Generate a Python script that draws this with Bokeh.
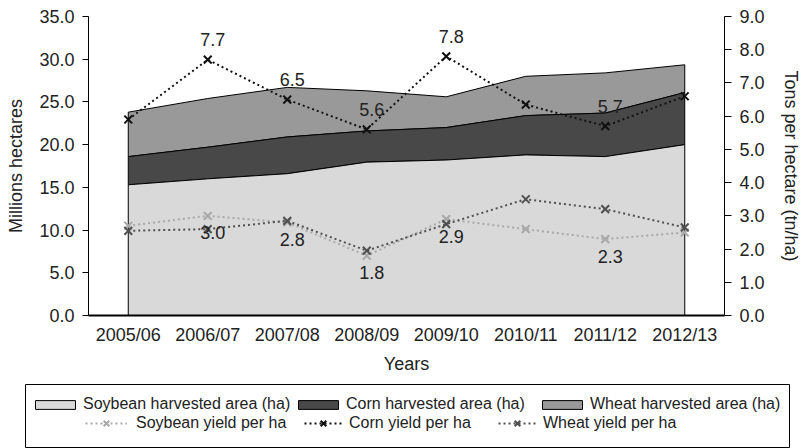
from bokeh.plotting import figure
from bokeh.models import (Range1d, LinearAxis, FixedTicker, NumeralTickFormatter,
                          Legend, LegendItem)
from bokeh.embed import file_html
from bokeh.resources import INLINE
from bokeh.core.properties import value

# ---------------- data ----------------
years = ["2005/06", "2006/07", "2007/08", "2008/09", "2009/10", "2010/11", "2011/12", "2012/13"]
soy_area = [15.3, 16.0, 16.6, 17.95, 18.2, 18.8, 18.6, 20.0]      # Mha
corn_area = [3.3, 3.7, 4.3, 3.65, 3.8, 4.6, 5.1, 6.1]             # Mha
wheat_area = [5.2, 5.7, 5.8, 4.7, 3.6, 4.6, 4.7, 3.25]            # Mha
soy_yield = [2.7, 3.0, 2.8, 1.8, 2.9, 2.6, 2.3, 2.5]              # t/ha
corn_yield = [5.9, 7.7, 6.5, 5.6, 7.8, 6.35, 5.7, 6.6]            # t/ha
wheat_yield = [2.55, 2.6, 2.85, 1.95, 2.75, 3.5, 3.2, 2.65]       # t/ha
corn_labels = ["", "7.7", "6.5", "5.6", "7.8", "", "5.7", ""]
soy_labels = ["", "3.0", "2.8", "1.8", "2.9", "", "2.3", ""]
left_ticks = [0, 5, 10, 15, 20, 25, 30, 35]
right_ticks = [0, 1, 2, 3, 4, 5, 6, 7, 8, 9]

FONT = "Liberation Sans"
SOY_FILL, CORN_FILL, WHEAT_FILL = "#d9d9d9", "#484848", "#999999"
SOY_LINE, CORN_LINE, WHEAT_LINE = "#a8a8a8", "#111111", "#505050"

xs = list(range(len(years)))
soy_top = soy_area
corn_top = [a + b for a, b in zip(soy_top, corn_area)]
wheat_top = [a + b for a, b in zip(corn_top, wheat_area)]
zero = [0.0] * len(xs)


def build(fig, yname):
    """Draw areas and yield lines on fig; return renderers for legends."""
    def layer(top, bottom, fill):
        px = xs + xs[::-1]
        py = list(top) + list(bottom)[::-1]
        return fig.patch(px, py, fill_color=fill, line_color="black", line_width=1)

    rw = layer(wheat_top, corn_top, WHEAT_FILL)
    rc = layer(corn_top, soy_top, CORN_FILL)
    rs = layer(soy_top, zero, SOY_FILL)

    def yline(vals, color, size):
        kw = {"y_range_name": yname} if yname else {}
        l = fig.line(xs, vals, line_color=color, line_width=2, line_dash="2 3", **kw)
        s = fig.scatter(xs, vals, marker="x", size=size, line_color=color, line_width=2, **kw)
        return [l, s]

    ys = yline(soy_yield, SOY_LINE, 11)
    yw = yline(wheat_yield, WHEAT_LINE, 11)
    yc = yline(corn_yield, CORN_LINE, 11)
    return rs, rc, rw, ys, yc, yw


p = figure(width=803, height=376, x_range=Range1d(-0.5, 7.5), y_range=Range1d(0, 35),
           output_backend="svg", toolbar_location=None,
           min_border_left=88, min_border_right=78, min_border_top=16, min_border_bottom=61)
p.extra_y_ranges = {"yield": Range1d(0, 9)}
p.outline_line_color = None
p.grid.visible = False

build(p, "yield")

p.text(xs, corn_yield, text=corn_labels, y_range_name="yield", x_offset=5, y_offset=-20,
       text_align="center", text_baseline="middle", text_font=value(FONT),
       text_font_size="18px", text_color="#222222")
p.text(xs, soy_yield, text=soy_labels, y_range_name="yield", x_offset=5, y_offset=17,
       text_align="center", text_baseline="middle", text_font=value(FONT),
       text_font_size="18px", text_color="#222222")

# axes
xa = p.xaxis[0]
xa.ticker = FixedTicker(ticks=xs)
xa.major_label_overrides = {i: y for i, y in enumerate(years)}
xa.minor_tick_line_color = None
xa.axis_label = "Years"
xa.major_label_standoff = 3
xa.axis_label_standoff = 6

ya = p.yaxis[0]
ya.ticker = FixedTicker(ticks=left_ticks)
ya.formatter = NumeralTickFormatter(format="0.0")
ya.major_tick_out = 6
ya.major_tick_in = 0
ya.minor_tick_line_color = None
ya.axis_label = "Millions hectares"
ya.major_label_standoff = 8
ya.axis_label_standoff = 10

ra = LinearAxis(y_range_name="yield", ticker=FixedTicker(ticks=right_ticks),
                formatter=NumeralTickFormatter(format="0.0"), axis_label="Tons per hectare (tn/ha)")
ra.major_tick_out = 7
ra.major_tick_in = 0
ra.minor_tick_line_color = None
ra.major_label_standoff = 8
ra.axis_label_standoff = 13
p.add_layout(ra, "right")

for ax in [xa, ya, ra]:
    ax.major_label_text_font = FONT
    ax.major_label_text_font_size = "18px"
    ax.major_label_text_color = "#222222"
    ax.axis_label_text_font = FONT
    ax.axis_label_text_font_size = "18px"
    ax.axis_label_text_font_style = "normal"
    ax.axis_label_text_color = "#222222"
    ax.axis_line_color = "black"
    ax.major_tick_line_color = "black"
xa.major_tick_line_color = None
xa.axis_line_width = 2

# ---------------- legend panel (separate root) ----------------
lg = figure(width=803, height=72, x_range=Range1d(-200, -199), y_range=Range1d(-200, -199),
            x_axis_type=None, y_axis_type=None, output_backend="svg", toolbar_location=None,
            min_border_left=25, min_border_right=14, min_border_top=8, min_border_bottom=0)
lg.grid.visible = False
lg.outline_line_color = "black"
lg.outline_line_width = 1

rs, rc, rw, ys_r, yc_r, yw_r = build(lg, None)


def add_leg(label, rends, x, y, gw, gh, standoff):
    leg = Legend(items=[LegendItem(label=label, renderers=rends)], location=(x, y),
                 orientation="horizontal", padding=0, margin=0, spacing=0,
                 border_line_alpha=0, background_fill_alpha=0,
                 glyph_width=gw, glyph_height=gh, label_standoff=standoff,
                 label_text_font=FONT, label_text_font_size="16px", label_text_color="#222222")
    lg.add_layout(leg)


row1_y = 35
row2_y = 15
add_leg("Soybean harvested area (ha)", [rs], 5, row1_y, 50, 11, 3)
add_leg("Corn harvested area (ha)", [rc], 268, row1_y, 50, 11, 3)
add_leg("Wheat harvested area (ha)", [rw], 512, row1_y, 50, 11, 3)
add_leg("Soybean yield per ha", ys_r, 60, row2_y, 42, 20, 9)
add_leg("Corn yield per ha", yc_r, 279, row2_y, 38, 20, 7)
add_leg("Wheat yield per ha", yw_r, 473, row2_y, 38, 20, 7)

open("out.html", "w").write(file_html([p, lg], INLINE))
